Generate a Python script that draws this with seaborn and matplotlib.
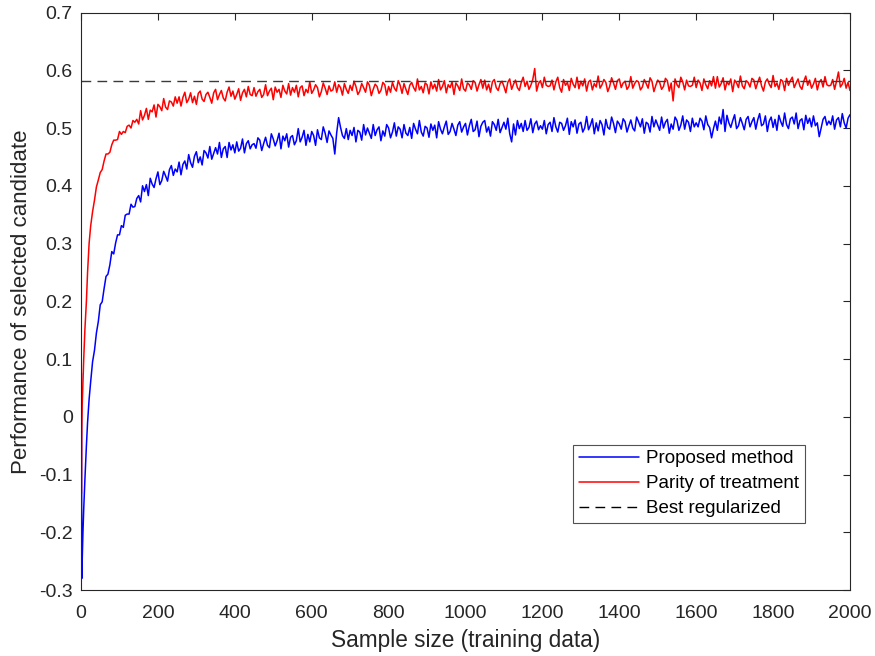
import numpy as np
import pandas as pd
import seaborn as sns
import matplotlib.pyplot as plt

# sample sizes: dense at the very start, then every 5
sample_size = [1, 2, 3, 5, 7, 10, 14, 17, 21, 25, 30, 35, 40, 45] + list(range(50, 2001, 5))

proposed = [
    0.075, -0.280, -0.250, -0.200, -0.160, -0.110, -0.050, -0.010, 0.030, 0.060, 0.095, 0.115, 0.145, 0.165,
    # 50 - 245
    .194, .199, .222, .243, .247, .263, .286, .282, .301, .315,
    .315, .331, .328, .349, .351, .351, .368, .363, .364, .378,
    .383, .372, .400, .390, .402, .383, .413, .403, .397, .412,
    .424, .402, .409, .425, .417, .408, .428, .435, .418, .429,
    # 250 - 445
    .424, .441, .419, .437, .443, .429, .454, .440, .432, .451,
    .459, .440, .450, .436, .461, .457, .448, .468, .446, .456,
    .466, .455, .475, .449, .464, .468, .449, .475, .462, .471,
    .457, .476, .460, .465, .481, .457, .473, .478, .464, .471,
    # 450 - 645
    .473, .465, .483, .479, .461, .473, .484, .470, .466, .490,
    .481, .469, .478, .491, .464, .486, .478, .490, .467, .484,
    .487, .471, .478, .499, .476, .484, .496, .470, .489, .476,
    .494, .487, .470, .497, .483, .480, .502, .491, .475, .495,
    # 650 - 845
    .488, .482, .455, .492, .518, .501, .487, .482, .499, .480,
    .496, .487, .501, .476, .496, .493, .479, .506, .488, .500,
    .491, .482, .506, .487, .497, .502, .478, .495, .486, .506,
    .500, .483, .493, .509, .486, .502, .498, .483, .506, .491,
    # 850 - 1045
    .487, .501, .482, .508, .498, .490, .513, .493, .486, .503,
    .500, .484, .507, .496, .505, .483, .511, .498, .490, .502,
    .512, .489, .494, .508, .498, .487, .505, .511, .493, .502,
    .508, .488, .504, .515, .494, .497, .512, .485, .503, .510,
    # 1050 - 1245
    .513, .493, .502, .486, .511, .506, .496, .515, .492, .501,
    .510, .498, .517, .490, .476, .507, .488, .513, .499, .508,
    .494, .513, .496, .501, .516, .492, .507, .512, .497, .504,
    .498, .513, .490, .506, .510, .494, .518, .502, .493, .510,
    # 1250 - 1445
    .508, .496, .504, .517, .489, .511, .502, .514, .491, .507,
    .510, .493, .500, .520, .497, .505, .516, .490, .509, .495,
    .513, .506, .488, .515, .501, .498, .519, .508, .492, .512,
    .507, .498, .516, .511, .493, .504, .514, .500, .495, .519,
    # 1450 - 1645
    .511, .502, .516, .491, .510, .507, .493, .520, .502, .514,
    .505, .496, .519, .500, .510, .515, .491, .507, .498, .519,
    .513, .496, .505, .521, .498, .514, .510, .494, .517, .502,
    .509, .502, .517, .512, .497, .521, .506, .501, .483, .499,
    # 1650 - 1845
    .512, .496, .519, .507, .532, .494, .522, .509, .501, .513,
    .523, .499, .504, .518, .508, .497, .515, .520, .502, .511,
    .518, .498, .514, .525, .504, .507, .521, .494, .512, .519,
    .501, .515, .496, .522, .511, .503, .526, .506, .499, .516,
    # 1850 - 2000
    .519, .507, .526, .499, .513, .516, .497, .522, .508, .517,
    .502, .521, .504, .509, .485, .500, .515, .520, .505, .512,
    .506, .521, .498, .514, .518, .502, .525, .509, .500, .517,
    .523,
]

parity = [
    -0.133, -0.020, 0.020, 0.060, 0.100, 0.150, 0.200, 0.250, 0.300, 0.330, 0.355, 0.375, 0.398, 0.410,
    # 50 - 245
    .423, .428, .443, .455, .455, .458, .471, .479, .479, .480,
    .494, .489, .494, .492, .503, .505, .500, .513, .510, .515,
    .507, .530, .514, .522, .534, .515, .531, .528, .540, .519,
    .541, .537, .530, .551, .536, .532, .547, .545, .538, .554,
    # 250 - 445
    .543, .554, .538, .553, .562, .544, .550, .561, .544, .555,
    .541, .560, .564, .550, .546, .558, .562, .553, .543, .561,
    .567, .549, .558, .565, .552, .547, .562, .571, .555, .564,
    .550, .558, .568, .548, .561, .567, .554, .572, .558, .556,
    # 450 - 645
    .570, .555, .563, .567, .553, .558, .575, .556, .564, .569,
    .549, .571, .562, .567, .553, .574, .564, .559, .577, .557,
    .570, .562, .574, .554, .570, .573, .556, .567, .561, .580,
    .560, .566, .575, .570, .554, .563, .578, .569, .558, .573,
    # 650 - 845
    .564, .566, .580, .562, .575, .570, .557, .577, .567, .560,
    .574, .565, .581, .572, .558, .564, .577, .570, .562, .580,
    .574, .556, .567, .576, .572, .560, .565, .579, .575, .557,
    .572, .562, .579, .569, .564, .582, .574, .560, .577, .567,
    # 850 - 1045
    .558, .574, .579, .570, .564, .585, .566, .572, .561, .578,
    .575, .559, .580, .568, .576, .564, .584, .566, .572, .582,
    .561, .575, .570, .580, .558, .578, .573, .565, .585, .568,
    .564, .578, .575, .567, .582, .579, .564, .575, .584, .569,
    # 1050 - 1245
    .583, .566, .576, .562, .580, .584, .570, .565, .577, .581,
    .572, .561, .579, .585, .567, .576, .583, .570, .565, .579,
    .588, .572, .581, .567, .574, .584, .603, .564, .577, .582,
    .570, .588, .574, .572, .573, .583, .566, .580, .588, .570,
    # 1250 - 1445
    .562, .584, .574, .579, .565, .586, .576, .570, .588, .568,
    .581, .573, .585, .564, .580, .583, .566, .577, .571, .590,
    .569, .575, .584, .579, .563, .572, .587, .578, .567, .582,
    .585, .570, .578, .581, .567, .572, .589, .569, .577, .582,
    # 1450 - 1645
    .580, .566, .571, .584, .577, .569, .587, .581, .563, .574,
    .583, .579, .567, .572, .586, .582, .564, .578, .547, .585,
    .575, .570, .588, .580, .566, .583, .573, .572, .574, .588,
    .570, .583, .578, .565, .585, .575, .568, .582, .573, .589,
    # 1650 - 1845
    .569, .589, .571, .577, .587, .566, .580, .575, .585, .563,
    .583, .578, .570, .590, .573, .568, .582, .579, .571, .586,
    .583, .568, .579, .588, .573, .564, .580, .585, .576, .570,
    .591, .572, .578, .567, .584, .581, .565, .586, .574, .582,
    # 1850 - 2000
    .588, .570, .578, .585, .572, .567, .581, .590, .574, .583,
    .569, .576, .586, .566, .579, .584, .571, .589, .575, .573,
    .574, .584, .567, .581, .597, .571, .576, .586, .569, .579,
    .565,
]

best_regularized = 0.582

df = pd.DataFrame({"n": sample_size, "proposed": proposed, "parity": parity})

sns.set_theme(style="white")
plt.rcParams['font.family'] = ['Liberation Sans', 'DejaVu Sans']
text_col = '#262626'

fig = plt.figure(figsize=(8.75, 6.56), dpi=100)
ax = fig.add_axes([0.0926, 0.1006, 0.8788, 0.8803])

sns.lineplot(data=df, x="n", y="proposed", color='#0000FF', lw=1.1,
             estimator=None, label='Proposed method', ax=ax)
sns.lineplot(data=df, x="n", y="parity", color='#FF0000', lw=1.1,
             estimator=None, label='Parity of treatment', ax=ax)
ax.axhline(best_regularized, color='#3a3a3a', lw=1.0, dashes=(7, 4.5),
           label='Best regularized')

ax.set_xlim(0, 2000)
ax.set_ylim(-0.3, 0.7)
ax.set_xticks(np.arange(0, 2001, 200))
ax.set_yticks(np.arange(-0.3, 0.71, 0.1))
ax.set_yticklabels(['-0.3', '-0.2', '-0.1', '0', '0.1', '0.2', '0.3', '0.4', '0.5', '0.6', '0.7'])
ax.tick_params(direction='in', length=5, width=0.8, top=True, right=True,
               labelsize=14, colors=text_col)
ax.tick_params(axis='x', pad=11)
ax.tick_params(axis='y', pad=6)
for s in ax.spines.values():
    s.set_color(text_col)
    s.set_linewidth(0.8)

ax.set_xlabel('Sample size (training data)', fontsize=16.3, color=text_col, labelpad=5)
ax.set_ylabel('Performance of selected candidate', fontsize=16, color=text_col, labelpad=5)

leg = ax.legend(loc='lower right', bbox_to_anchor=(0.9415, 0.116), fontsize=13.5,
                frameon=True, fancybox=False, handlelength=3.2, borderpad=0.3,
                labelspacing=0.42, handletextpad=0.4, borderaxespad=0)
leg.get_frame().set_edgecolor(text_col)
leg.get_frame().set_linewidth(0.8)
leg.legend_handles[2].set_color('black')
for t in leg.get_texts():
    t.set_color('black')

fig.savefig('out.png', dpi=100)
